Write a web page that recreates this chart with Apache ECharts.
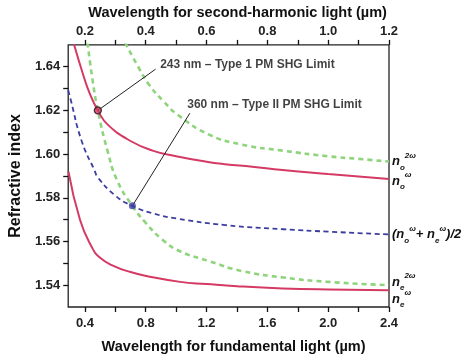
<!DOCTYPE html>
<html><head><meta charset="utf-8">
<script src="https://cdn.jsdelivr.net/npm/echarts@6/dist/echarts.min.js"></script>
<style>html,body{margin:0;padding:0;background:#fff}#c{width:474px;height:359px}</style>
</head><body><div id="c"></div>
<script>
// Fundamental wavelength (µm) / refractive index readings
const noW_x = [0.325,0.39,0.43,0.485,0.55,0.70,0.85,1.00,1.20,1.32,1.50,1.70,2.00,2.20,2.40];
const noW_y = [1.651,1.636,1.628,1.620,1.6135,1.606,1.6015,1.599,1.5965,1.5954,1.5942,1.5927,1.5909,1.5898,1.5886];
const neW_x = [0.292,0.368,0.443,0.50,0.591,0.70,0.803,1.026,1.20,1.40,1.70,2.00,2.40];
const neW_y = [1.592,1.5698,1.5577,1.5525,1.5487,1.546,1.5442,1.5415,1.5405,1.5395,1.5385,1.538,1.5377];
const no2W_x = [0.665,0.75,0.825,0.92,1.01,1.217,1.43,1.70,2.00,2.20,2.40];
const no2W_y = [1.651,1.640,1.6315,1.624,1.618,1.6089,1.6044,1.6016,1.599,1.5978,1.5966];
const ne2W_x = [0.417,0.45,0.485,0.549,0.612,0.712,0.80,0.91,1.026,1.217,1.43,1.706,2.00,2.40];
const ne2W_y = [1.651,1.634,1.620,1.6014,1.5879,1.5763,1.5685,1.5608,1.5555,1.551,1.5465,1.5435,1.5415,1.540];
const avg_x = [0.29,0.304,0.379,0.464,0.485,0.60,0.712,0.85,1.005,1.324,1.706,2.00,2.40];
const avg_y = [1.6292,1.6255,1.6059,1.5924,1.5893,1.581,1.5763,1.5728,1.5705,1.5675,1.5656,1.5645,1.5632];

// Phase-matching points
const pm1 = [0.485, 1.620];
const pm2 = [0.712, 1.5763];
// Annotation text anchors and arrow heads
const arrowEnd1 = [0.865, 1.6389];
const arrowEnd2 = [1.09, 1.6187];
const text1Pos = [0.895, 1.6411];
const text2Pos = [1.073, 1.6226];
const text1 = '243 nm – Type 1 PM SHG Limit';
const text2 = '360 nm – Type II PM SHG Limit';

// Axis ticks
const bottomLabels = [0.4,0.8,1.2,1.6,2.0,2.4];
const bottomTicks = [0.4,0.6,0.8,1.0,1.2,1.4,1.6,1.8,2.0,2.2,2.4];
const topLabels = [0.2,0.4,0.6,0.8,1.0,1.2];
const topTicks = [0.2,0.3,0.4,0.5,0.6,0.7,0.8,0.9,1.0,1.1,1.2];
const yLabels = [1.54,1.56,1.58,1.60,1.62,1.64];
const yTicks = [1.54,1.55,1.56,1.57,1.58,1.59,1.60,1.61,1.62,1.63,1.64];

const zip = (xs, ys) => xs.map((x, i) => [x, ys[i]]);
const FONT = 'Liberation Sans, Arial, sans-serif';
const RED = '#d43a64', GREEN = '#8fd47c', BLUE = '#3b3d9e';

const rich = {
  n: {fontFamily: FONT, fontSize: 13, fontWeight: 'bold', fontStyle: 'italic', color: '#111', lineHeight: 20},
  p: {fontFamily: FONT, fontSize: 13, fontWeight: 'bold', fontStyle: 'italic', color: '#111', lineHeight: 20},
  sub: {fontFamily: FONT, fontSize: 8, fontWeight: 'bold', fontStyle: 'italic', color: '#111', verticalAlign: 'bottom', lineHeight: 12},
  sup: {fontFamily: FONT, fontSize: 8, fontWeight: 'bold', fontStyle: 'italic', color: '#111', verticalAlign: 'top', lineHeight: 12}
};
function endLab(fmt, off) {
  return {show: true, formatter: fmt, rich: rich, distance: 3, offset: off};
}

const axisCommon = {
  axisLine: {show: false},
  splitLine: {show: false},
  axisTick: {show: true, length: 5, lineStyle: {color: '#111', width: 1.3}},
  axisLabel: {fontFamily: FONT, fontSize: 13, fontWeight: 'bold', color: '#222'},
  nameTextStyle: {fontFamily: FONT, fontSize: 14.5, fontWeight: 'bold', color: '#111'}
};
const SM = 0.5;

const chart = echarts.init(document.getElementById('c'), null, {renderer: 'canvas'});
chart.setOption({
  animation: false,
  backgroundColor: '#fff',
  grid: {left: 58, right: 85, top: 42, bottom: 52, show: true, borderColor: '#222', borderWidth: 1.3, backgroundColor: 'transparent'},
  xAxis: [
    Object.assign({}, axisCommon, {
      type: 'value', position: 'bottom', min: 0.29, max: 2.4,
      name: 'Wavelength for fundamental light (µm)', nameLocation: 'middle', nameGap: 32,
      nameTextStyle: Object.assign({}, axisCommon.nameTextStyle, {padding: [0, 0, 0, 10]}),
      axisTick: Object.assign({}, axisCommon.axisTick, {customValues: bottomTicks}),
      axisLabel: Object.assign({}, axisCommon.axisLabel, {customValues: bottomLabels, margin: 10, formatter: v => v.toFixed(1)})
    }),
    Object.assign({}, axisCommon, {
      type: 'value', position: 'top', min: 0.145, max: 1.2,
      name: 'Wavelength for second-harmonic light (µm)', nameLocation: 'middle', nameGap: 23,
      nameTextStyle: Object.assign({}, axisCommon.nameTextStyle, {padding: [0, 0, 0, 18]}),
      axisTick: Object.assign({}, axisCommon.axisTick, {customValues: topTicks}),
      axisLabel: Object.assign({}, axisCommon.axisLabel, {customValues: topLabels, margin: 7, formatter: v => v.toFixed(1)})
    })
  ],
  yAxis: Object.assign({}, axisCommon, {
    type: 'value', min: 1.53, max: 1.65,
    name: 'Refractive index', nameLocation: 'middle', nameGap: 38,
    nameTextStyle: Object.assign({}, axisCommon.nameTextStyle, {fontSize: 16}),
    axisTick: Object.assign({}, axisCommon.axisTick, {customValues: yTicks}),
    axisLabel: Object.assign({}, axisCommon.axisLabel, {customValues: yLabels, margin: 8, formatter: v => v.toFixed(2)})
  }),
  series: [
    {type: 'line', name: 'no2w', data: zip(no2W_x, no2W_y), smooth: SM, symbol: 'none',
      lineStyle: {color: GREEN, width: 2.6, type: [5, 4]},
      endLabel: endLab('{n|n}{sub|o}{sup|2ω}', [0, 0])},
    {type: 'line', name: 'ne2w', data: zip(ne2W_x, ne2W_y), smooth: SM, symbol: 'none',
      lineStyle: {color: GREEN, width: 2.6, type: [5, 4]},
      endLabel: endLab('{n|n}{sub|e}{sup|2ω}', [0, -3])},
    {type: 'line', name: 'avg', data: zip(avg_x, avg_y), smooth: SM, symbol: 'none',
      lineStyle: {color: BLUE, width: 1.8, type: [5, 3.5]},
      endLabel: endLab('{p|(}{n|n}{sub|o}{sup|ω}{p|+ }{n|n}{sub|e}{sup|ω}{p|)/2}', [0, 0])},
    {type: 'line', name: 'now', data: zip(noW_x, noW_y), smooth: SM, symbol: 'none',
      lineStyle: {color: RED, width: 2},
      endLabel: endLab('{n|n}{sub|o}{sup|ω}', [0, 2])},
    {type: 'line', name: 'new', data: zip(neW_x, neW_y), smooth: SM, symbol: 'none',
      lineStyle: {color: RED, width: 2},
      endLabel: endLab('{n|n}{sub|e}{sup|ω}', [0, 9])},
    {type: 'scatter', name: 'pm', z: 5,
      data: [
        {value: pm1, symbolSize: 7, itemStyle: {color: RED, borderColor: '#111', borderWidth: 1.3}},
        {value: pm2, symbolSize: 7, itemStyle: {color: BLUE, borderColor: BLUE, borderWidth: 0}}
      ],
      markLine: {
        silent: true, symbol: ['none', 'arrow'], symbolSize: [0, 8],
        lineStyle: {color: '#222', width: 1, type: 'solid'}, label: {show: false},
        data: [
          [{coord: pm1}, {coord: arrowEnd1}],
          [{coord: pm2}, {coord: arrowEnd2}]
        ]
      }
    },
    {type: 'scatter', name: 'txt', symbolSize: 0, silent: true,
      data: [
        {value: text1Pos, label: {formatter: text1}},
        {value: text2Pos, label: {formatter: text2}}
      ],
      label: {show: true, position: 'right', distance: 0, fontFamily: FONT, fontSize: 12, fontWeight: 'bold', color: '#111'}
    }
  ]
});
</script>
</body></html>
